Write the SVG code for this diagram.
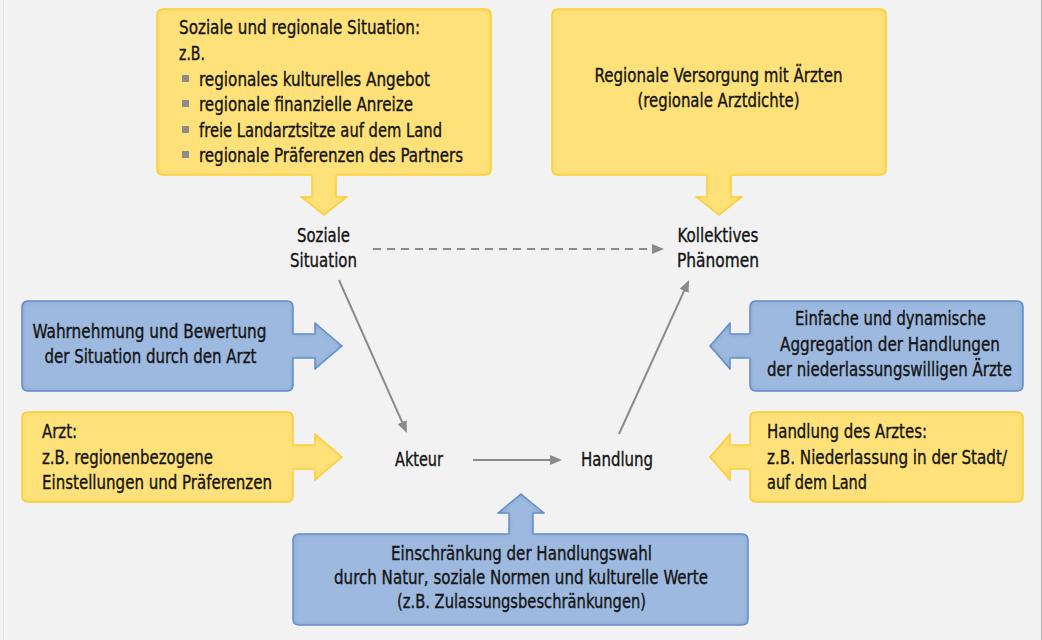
<svg xmlns="http://www.w3.org/2000/svg" width="1042" height="640" viewBox="0 0 1042 640">
  <style>
    .t { font-family: "DejaVu Sans Condensed", "DejaVu Sans", sans-serif; font-stretch: condensed; font-size: 19.5px; fill: #141414; stroke: #141414; stroke-width: 0.35px; }
    .c { text-anchor: middle; }
    .yellow { fill: #ffe17a; stroke: #fad346; stroke-width: 1.5; stroke-linejoin: round; }
    .blue { fill: #9db9df; stroke: #6c95cc; stroke-width: 1.5; stroke-linejoin: round; }
    .link { stroke: #8a8a8a; stroke-width: 2; fill: none; }
    .bullet { fill: #8c8c8c; }
  </style>
  <defs>
    <marker id="head" viewBox="0 0 12 10" refX="2" refY="5" markerWidth="12" markerHeight="10" markerUnits="userSpaceOnUse" orient="auto">
      <path d="M0,0 L12,5 L0,10 Z" fill="#8a8a8a"/>
    </marker>
    <filter id="glowY" x="-5%" y="-5%" width="110%" height="110%">
      <feGaussianBlur in="SourceAlpha" stdDeviation="2.5" result="blur"/>
      <feComposite in="SourceAlpha" in2="blur" operator="arithmetic" k2="1" k3="-1" result="ring"/>
      <feFlood flood-color="#f7c928"/>
      <feComposite in2="ring" operator="in" result="shade"/>
      <feMerge><feMergeNode in="SourceGraphic"/><feMergeNode in="shade"/></feMerge>
    </filter>
    <filter id="glowB" x="-5%" y="-5%" width="110%" height="110%">
      <feGaussianBlur in="SourceAlpha" stdDeviation="2.5" result="blur"/>
      <feComposite in="SourceAlpha" in2="blur" operator="arithmetic" k2="1" k3="-1" result="ring"/>
      <feFlood flood-color="#5b88c6"/>
      <feComposite in2="ring" operator="in" result="shade"/>
      <feMerge><feMergeNode in="SourceGraphic"/><feMergeNode in="shade"/></feMerge>
    </filter>
  </defs>

  <!-- page -->
  <rect x="0" y="0" width="1042" height="640" fill="#f2f2f2"/>
  <line x1="3.5" y1="0" x2="3.5" y2="640" stroke="#e6e6e6" stroke-width="1"/>
  <line x1="1041.5" y1="0" x2="1041.5" y2="640" stroke="#b4b4b4" stroke-width="1"/>

  <!-- social and regional situation -->
  <g id="box-situation">
    <path class="yellow" filter="url(#glowY)" d="M163,9 H485 Q491,9 491,15 V169 Q491,175 485,175 H336 V197 H347 L324,215 L301,197 H312 V175 H163 Q157,175 157,169 V15 Q157,9 163,9 Z"/>
    <text class="t" x="179" y="34" textLength="241" lengthAdjust="spacingAndGlyphs">Soziale und regionale Situation:</text>
    <text class="t" x="179" y="60" textLength="26" lengthAdjust="spacingAndGlyphs">z.B.</text>
    <rect class="bullet" x="182" y="75" width="7" height="7"/>
    <text class="t" x="199" y="86" textLength="231" lengthAdjust="spacingAndGlyphs">regionales kulturelles Angebot</text>
    <rect class="bullet" x="182" y="100" width="7" height="7"/>
    <text class="t" x="199" y="111" textLength="214" lengthAdjust="spacingAndGlyphs">regionale finanzielle Anreize</text>
    <rect class="bullet" x="182" y="126" width="7" height="7"/>
    <text class="t" x="199" y="137" textLength="243" lengthAdjust="spacingAndGlyphs">freie Landarztsitze auf dem Land</text>
    <rect class="bullet" x="182" y="151" width="7" height="7"/>
    <text class="t" x="199" y="162" textLength="264" lengthAdjust="spacingAndGlyphs">regionale Präferenzen des Partners</text>
  </g>

  <!-- regional supply of doctors -->
  <g id="box-supply">
    <path class="yellow" filter="url(#glowY)" d="M558,9 H880 Q886,9 886,15 V169 Q886,175 880,175 H731 V197 H742 L719,215 L696,197 H707 V175 H558 Q552,175 552,169 V15 Q552,9 558,9 Z"/>
    <text class="t c" x="718.5" y="82" textLength="248" lengthAdjust="spacingAndGlyphs">Regionale Versorgung mit Ärzten</text>
    <text class="t c" x="718.5" y="107" textLength="162" lengthAdjust="spacingAndGlyphs">(regionale Arztdichte)</text>
  </g>

  <!-- perception -->
  <g id="box-perception">
    <path class="blue" filter="url(#glowB)" d="M28,301 H287 Q293,301 293,307 V334 H315 V323 L342,346 L315,369 V358 H293 V385 Q293,391 287,391 H28 Q22,391 22,385 V307 Q22,301 28,301 Z"/>
    <text class="t c" x="149.5" y="338" textLength="234" lengthAdjust="spacingAndGlyphs">Wahrnehmung und Bewertung</text>
    <text class="t c" x="150.5" y="363" textLength="212" lengthAdjust="spacingAndGlyphs">der Situation durch den Arzt</text>
  </g>

  <!-- doctor -->
  <g id="box-doctor">
    <path class="yellow" filter="url(#glowY)" d="M28,412 H287 Q293,412 293,418 V445 H315 V434 L342,457 L315,480 V469 H293 V496 Q293,502 287,502 H28 Q22,502 22,496 V418 Q22,412 28,412 Z"/>
    <text class="t" x="42" y="438" textLength="35" lengthAdjust="spacingAndGlyphs">Arzt:</text>
    <text class="t" x="42" y="464" textLength="171" lengthAdjust="spacingAndGlyphs">z.B. regionenbezogene</text>
    <text class="t" x="42" y="489" textLength="230" lengthAdjust="spacingAndGlyphs">Einstellungen und Präferenzen</text>
  </g>

  <!-- aggregation -->
  <g id="box-aggregation">
    <path class="blue" filter="url(#glowB)" d="M756,301 H1017 Q1023,301 1023,307 V385 Q1023,391 1017,391 H756 Q750,391 750,385 V358 H730 V369 L710,346 L730,323 V334 H750 V307 Q750,301 756,301 Z"/>
    <text class="t c" x="890.5" y="325" textLength="191" lengthAdjust="spacingAndGlyphs">Einfache und dynamische</text>
    <text class="t c" x="890" y="350.5" textLength="220" lengthAdjust="spacingAndGlyphs">Aggregation der Handlungen</text>
    <text class="t c" x="889.5" y="376" textLength="245" lengthAdjust="spacingAndGlyphs">der niederlassungswilligen Ärzte</text>
  </g>

  <!-- action of the doctor -->
  <g id="box-action">
    <path class="yellow" filter="url(#glowY)" d="M756,412 H1017 Q1023,412 1023,418 V496 Q1023,502 1017,502 H756 Q750,502 750,496 V469 H730 V480 L710,457 L730,434 V445 H750 V418 Q750,412 756,412 Z"/>
    <text class="t" x="767" y="438" textLength="160" lengthAdjust="spacingAndGlyphs">Handlung des Arztes:</text>
    <text class="t" x="767" y="464" textLength="240" lengthAdjust="spacingAndGlyphs">z.B. Niederlassung in der Stadt/</text>
    <text class="t" x="767" y="489" textLength="100" lengthAdjust="spacingAndGlyphs">auf dem Land</text>
  </g>

  <!-- restriction of choice -->
  <g id="box-restriction">
    <path class="blue" filter="url(#glowB)" d="M299,534 H509 V513 H498 L521,494 L544,513 H533 V534 H742 Q748,534 748,540 V619 Q748,625 742,625 H299 Q293,625 293,619 V540 Q293,534 299,534 Z"/>
    <text class="t c" x="521.5" y="560" textLength="261" lengthAdjust="spacingAndGlyphs">Einschränkung der Handlungswahl</text>
    <text class="t c" x="521" y="584" textLength="374" lengthAdjust="spacingAndGlyphs">durch Natur, soziale Normen und kulturelle Werte</text>
    <text class="t c" x="521.5" y="608" textLength="249" lengthAdjust="spacingAndGlyphs">(z.B. Zulassungsbeschränkungen)</text>
  </g>

  <!-- model nodes -->
  <g id="node-social">
    <text class="t c" x="323.5" y="242" textLength="53" lengthAdjust="spacingAndGlyphs">Soziale</text>
    <text class="t c" x="323.5" y="267" textLength="67" lengthAdjust="spacingAndGlyphs">Situation</text>
  </g>
  <g id="node-collective">
    <text class="t c" x="718" y="242" textLength="81" lengthAdjust="spacingAndGlyphs">Kollektives</text>
    <text class="t c" x="718" y="267" textLength="82" lengthAdjust="spacingAndGlyphs">Phänomen</text>
  </g>
  <g id="node-actor">
    <text class="t c" x="419" y="466" textLength="48" lengthAdjust="spacingAndGlyphs">Akteur</text>
  </g>
  <g id="node-action">
    <text class="t c" x="617" y="466" textLength="72" lengthAdjust="spacingAndGlyphs">Handlung</text>
  </g>

  <!-- connectors -->
  <g id="connectors">
    <line class="link" x1="373" y1="249" x2="654" y2="249" stroke-dasharray="8 6" marker-end="url(#head)"/>
    <line class="link" x1="339" y1="280" x2="402.9" y2="423.9" marker-end="url(#head)"/>
    <line class="link" x1="473" y1="460" x2="552" y2="460" marker-end="url(#head)"/>
    <line class="link" x1="619" y1="434" x2="684.9" y2="289.1" marker-end="url(#head)"/>
  </g>
</svg>
